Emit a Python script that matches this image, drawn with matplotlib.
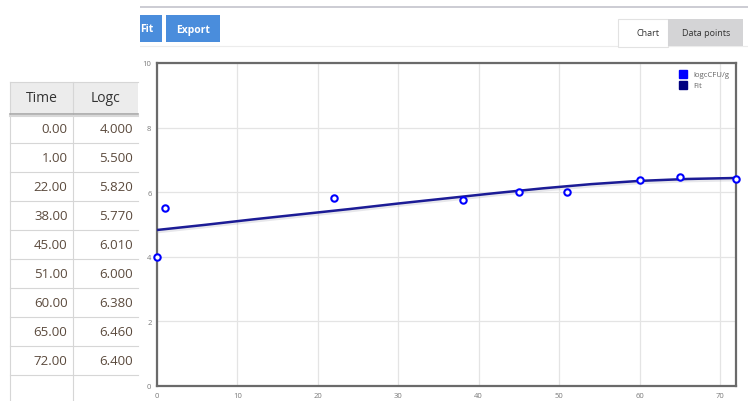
import matplotlib
matplotlib.use("Agg")
import matplotlib.pyplot as plt
import matplotlib.patheffects as pe
from matplotlib.patches import Rectangle
from matplotlib.lines import Line2D

plt.rcParams['font.family'] = ['Open Sans', 'DejaVu Sans']

# Observed data
time_h = [0, 1, 22, 38, 45, 51, 60, 65, 72]
logc = [4.000, 5.500, 5.820, 5.770, 6.010, 6.000, 6.380, 6.460, 6.400]

# Fitted growth curve
fit_time = [0, 6, 12, 18, 24, 30, 36, 42, 48, 54, 60, 66, 72]
fit_logc = [4.83, 4.99, 5.16, 5.32, 5.48, 5.65, 5.81, 5.97, 6.12, 6.25, 6.35, 6.41, 6.44]

x_ticks = [0, 10, 20, 30, 40, 50, 60, 70]
y_ticks = [0, 2, 4, 6, 8, 10]

W, H = 748, 402
fig = plt.figure(figsize=(W / 100, H / 100), dpi=100)
fig.patch.set_facecolor('white')


def fx(px):
    return px / W


def fy(py):
    return 1 - py / H


def rect(x0, y0, x1, y1, fc, ec='none', lw=0, z=1):
    r = Rectangle((fx(x0), fy(y1)), fx(x1) - fx(x0), fy(y0) - fy(y1),
                  transform=fig.transFigure, facecolor=fc, edgecolor=ec,
                  linewidth=lw, zorder=z)
    fig.add_artist(r)
    return r


def hline(x0, x1, y, color, lw=1, z=2):
    fig.add_artist(Line2D([fx(x0), fx(x1)], [fy(y), fy(y)], transform=fig.transFigure,
                          color=color, lw=lw, zorder=z))


def vline(x, y0, y1, color, lw=1, z=2):
    fig.add_artist(Line2D([fx(x), fx(x)], [fy(y0), fy(y1)], transform=fig.transFigure,
                          color=color, lw=lw, zorder=z))


# Toolbar
hline(140, 748, 7.5, '#c4c4cc', lw=1.2)
hline(140, 748, 47, '#ececec', lw=0.8)
rect(128, 16, 162, 43, '#4a8ddc', z=2)
fig.text(fx(147), fy(30), 'Fit', color='white', fontsize=7.5, fontweight='bold',
         ha='center', va='center', zorder=3)
rect(166, 16, 220, 43, '#4a8ddc', z=2)
fig.text(fx(193), fy(30), 'Export', color='white', fontsize=7.5, fontweight='bold',
         ha='center', va='center', zorder=3)
rect(0, 0, 139.5, 60, 'white', z=4)

# Tabs
rect(618, 20, 668, 47.5, 'white', ec='#e2e2e2', lw=0.8, z=2)
rect(668, 20, 743, 47, '#d4d4d6', z=2)
fig.text(fx(648), fy(34), 'Chart', color='#333333', fontsize=6.5, ha='center', va='center', zorder=3)
fig.text(fx(706), fy(34), 'Data points', color='#333333', fontsize=6.5, ha='center', va='center', zorder=3)

# Data table
tl, tm, tr = 10, 73, 138
rect(tl, 83, tr, 115, '#ececec', z=2)
hline(tl, tr, 83, '#d6d6d6', lw=0.8, z=3)
hline(tl, tr, 115, '#a8a8a8', lw=1.2, z=3)
hline(tl, tr, 116.5, '#d8d8d8', lw=1.5, z=3)
fig.text(fx(41.5), fy(99), 'Time', color='#333333', fontsize=10, ha='center', va='center', zorder=3)
fig.text(fx(105.5), fy(99), 'Logc', color='#333333', fontsize=10, ha='center', va='center', zorder=3)
row_top = 115
row_h = 29
for i, (t, v) in enumerate(zip(time_h, logc)):
    y0 = row_top + i * row_h
    yc = y0 + row_h / 2
    fig.text(fx(67.5), fy(yc), f'{t:.2f}', color='#5b4a3d', fontsize=9.5, ha='right', va='center', zorder=3)
    fig.text(fx(133), fy(yc), f'{v:.3f}', color='#5b4a3d', fontsize=9.5, ha='right', va='center', zorder=3)
    hline(tl, tr, y0 + row_h, '#d6d6d6', lw=0.8)
vline(tl, 83, 402, '#d6d6d6', lw=0.8)
vline(tm, 83, 402, '#d6d6d6', lw=0.8)

# Chart
ax = fig.add_axes([fx(157), fy(387), fx(736) - fx(157), fy(64) - fy(387)])
ax.set_xlim(0, 72)
ax.set_ylim(0, 10)
ax.set_xticks(x_ticks)
ax.set_yticks(y_ticks)
ax.grid(True, color='#e4e4e4', lw=0.9)
ax.set_axisbelow(True)
for s in ax.spines.values():
    s.set_color('#6a6a6a')
    s.set_linewidth(1.6)
ax.tick_params(length=0, labelsize=5.5, labelcolor='#7a7a7a', pad=4)

ax.plot(fit_time, fit_logc, color='#1c1c96', lw=1.8, zorder=3,
        path_effects=[pe.SimpleLineShadow(offset=(0, -1.2), shadow_color='#a0a0b0', alpha=0.25, linewidth=2.5),
                      pe.Normal()])
ax.plot(time_h, logc, ls='none', marker='o', ms=4.6, mfc='white', mec='#0000ff', mew=1.5,
        clip_on=False, zorder=5)

handles = [Line2D([], [], ls='none', marker='s', ms=6, color='#0000ff'),
           Line2D([], [], ls='none', marker='s', ms=6, color='#000080')]
leg = ax.legend(handles, ['logcCFU/g', 'Fit'], loc='upper right', bbox_to_anchor=(0.997, 0.99),
                frameon=False, fontsize=5.6, handletextpad=0.9, labelspacing=0.45,
                handlelength=0.8, borderaxespad=0.2)
for t in leg.get_texts():
    t.set_color('#666666')

fig.savefig('out.png', dpi=100, facecolor='white')
